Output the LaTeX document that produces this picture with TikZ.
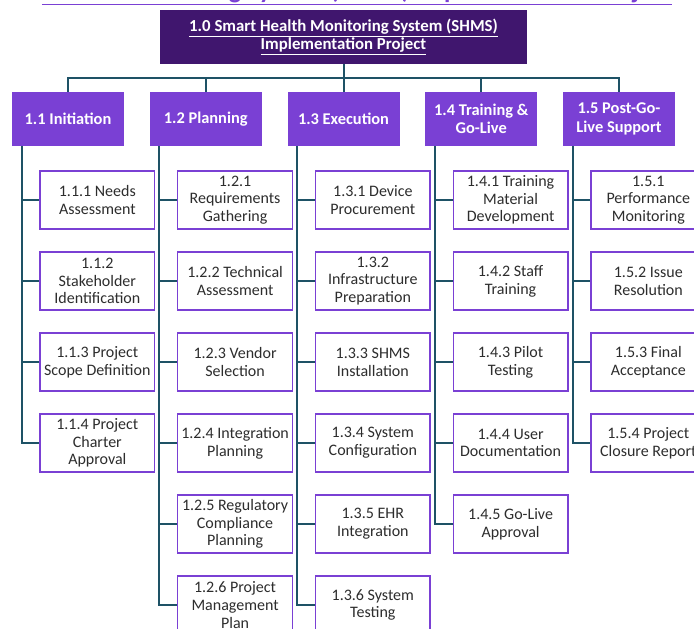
\documentclass[tikz,border=0pt]{standalone}
\usepackage{fontspec}
\setmainfont{Carlito}
\definecolor{wbsdark}{RGB}{64,22,110}
\definecolor{wbsmid}{RGB}{122,64,212}
\definecolor{wbsline}{RGB}{30,82,102}
\definecolor{wbstext}{RGB}{45,45,45}

\begin{document}
\begin{tikzpicture}[x=0.75pt,y=-0.75pt]
      \tikzset{
        node distance=60.75pt,
        root/.style={fill=wbsdark,text=white,font=\fontsize{12.6}{13.5}\selectfont\bfseries,
          minimum width=275pt,minimum height=40.5pt,align=center},
        phase/.style={fill=wbsmid,text=white,font=\fontsize{12.3}{13.8}\selectfont\bfseries,
          minimum width=84pt,minimum height=40.5pt,align=center,inner sep=1pt},
        task/.style={draw=wbsmid,line width=1.1pt,fill=white,text=wbstext,
          font=\fontsize{12}{13.3}\selectfont,minimum width=86pt,
          minimum height=43.5pt,align=center,inner sep=1pt},
        link/.style={draw=wbsline,line width=1.5pt}
      }
      \useasboundingbox (0,0) rectangle (694,629);
      \clip (0,0) rectangle (694,629);

      \node[anchor=base,text=wbsmid,font=\fontsize{19.5}{22}\selectfont\bfseries] (title) at (357,-2)
        {\underline{Health Monitoring System (SHMS) Implementation Project}};
      \node[root] (root) at (343.5,37)
        {\underline{1.0 Smart Health Monitoring System (SHMS)}\\\underline{Implementation Project}};

      \node[phase] (p1) at (68,119) {1.1 Initiation};
      \node[phase] (p2) at (205.75,119) {1.2 Planning};
      \node[phase] (p3) at (343.5,119) {1.3 Execution};
      \node[phase] (p4) at (481.25,119) {1.4 Training \&\\Go-Live};
      \node[phase] (p5) at (619,119) {1.5 Post-Go-\\Live Support};

      \node[task,below of=p1,xshift=22pt] (t11) {1.1.1 Needs\\Assessment};
      \node[task,below of=t11] (t12) {1.1.2\\Stakeholder\\Identification};
      \node[task,below of=t12] (t13) {1.1.3 Project\\Scope Definition};
      \node[task,below of=t13] (t14) {1.1.4 Project\\Charter\\Approval};

      \node[task,below of=p2,xshift=22pt] (t21) {1.2.1\\Requirements\\Gathering};
      \node[task,below of=t21] (t22) {1.2.2 Technical\\Assessment};
      \node[task,below of=t22] (t23) {1.2.3 Vendor\\Selection};
      \node[task,below of=t23] (t24) {1.2.4 Integration\\Planning};
      \node[task,below of=t24] (t25) {1.2.5 Regulatory\\Compliance\\Planning};
      \node[task,below of=t25] (t26) {1.2.6 Project\\Management\\Plan};

      \node[task,below of=p3,xshift=22pt] (t31) {1.3.1 Device\\Procurement};
      \node[task,below of=t31] (t32) {1.3.2\\Infrastructure\\Preparation};
      \node[task,below of=t32] (t33) {1.3.3 SHMS\\Installation};
      \node[task,below of=t33] (t34) {1.3.4 System\\Configuration};
      \node[task,below of=t34] (t35) {1.3.5 EHR\\Integration};
      \node[task,below of=t35] (t36) {1.3.6 System\\Testing};

      \node[task,below of=p4,xshift=22pt] (t41) {1.4.1 Training\\Material\\Development};
      \node[task,below of=t41] (t42) {1.4.2 Staff\\Training};
      \node[task,below of=t42] (t43) {1.4.3 Pilot\\Testing};
      \node[task,below of=t43] (t44) {1.4.4 User\\Documentation};
      \node[task,below of=t44] (t45) {1.4.5 Go-Live\\Approval};

      \node[task,below of=p5,xshift=22pt] (t51) {1.5.1\\Performance\\Monitoring};
      \node[task,below of=t51] (t52) {1.5.2 Issue\\Resolution};
      \node[task,below of=t52] (t53) {1.5.3 Final\\Acceptance};
      \node[task,below of=t53] (t54) {1.5.4 Project\\Closure Report};

      % root to phases
      \foreach \p in {p1,p2,p3,p4,p5}
        \draw[link] (root.south) -- ++(0,14) -| (\p.north);

      % phases to tasks
      \foreach \p/\t in {p1/t11,p1/t12,p1/t13,p1/t14,
                         p2/t21,p2/t22,p2/t23,p2/t24,p2/t25,p2/t26,
                         p3/t31,p3/t32,p3/t33,p3/t34,p3/t35,p3/t36,
                         p4/t41,p4/t42,p4/t43,p4/t44,p4/t45,
                         p5/t51,p5/t52,p5/t53,p5/t54}
        \draw[link] ([xshift=7.5pt]\p.south west) |- (\t.west);
    \end{tikzpicture}
\end{document}
